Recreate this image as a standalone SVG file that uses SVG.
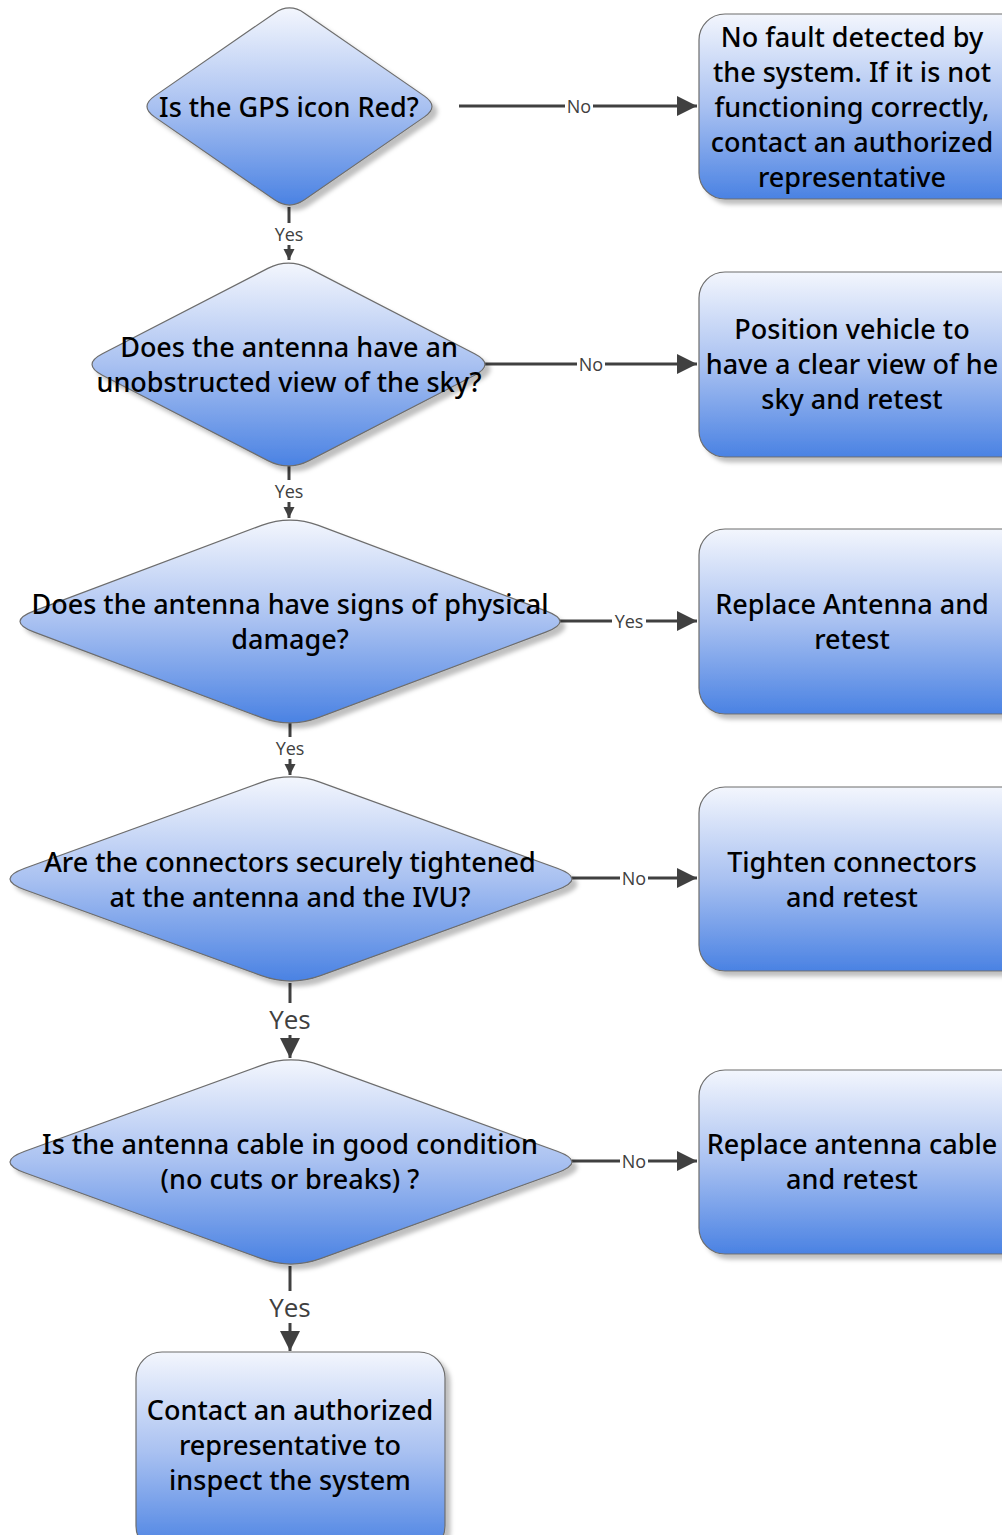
<svg xmlns="http://www.w3.org/2000/svg" width="1002" height="1535" viewBox="0 0 1002 1535">
<defs>
<linearGradient id="g" x1="0" y1="0" x2="0" y2="1">
<stop offset="0" stop-color="#f3f6fd"/>
<stop offset="0.5" stop-color="#a9c1f1"/>
<stop offset="1" stop-color="#4a82e3"/>
</linearGradient>
<filter id="sh" x="-10%" y="-10%" width="125%" height="125%">
<feDropShadow dx="5" dy="5" stdDeviation="2" flood-color="#000" flood-opacity="0.25"/>
</filter>
<marker id="ah" viewBox="0 0 10 10" refX="10" refY="5" markerWidth="22" markerHeight="20" markerUnits="userSpaceOnUse" orient="auto"><path d="M0,0 L10,5 L0,10 z" fill="#404040"/></marker>
<marker id="as" viewBox="0 0 10 10" refX="10" refY="5" markerWidth="11" markerHeight="12" markerUnits="userSpaceOnUse" orient="auto"><path d="M0,0 L10,5 L0,10 z" fill="#404040"/></marker>
</defs>
<style>
.n{fill:url(#g);stroke:#6d6d6d;stroke-width:1.2;filter:url(#sh)}
.t{font-family:"Noto Sans",sans-serif;font-size:27px;font-weight:500;fill:#000;text-anchor:middle;dominant-baseline:central}
.c{stroke:#404040;stroke-width:3;fill:none}
.l{font-family:"Open Sans",sans-serif;font-size:18px;fill:#404040;text-anchor:middle;dominant-baseline:central}
.lb{font-family:"Open Sans",sans-serif;font-size:26px;fill:#404040;text-anchor:middle;dominant-baseline:central}
.bg{fill:#fff}
</style>
<g id="connectors">
<path class="c" d="M459,106 H697" marker-end="url(#ah)"/>
<rect class="bg" x="565" y="95" width="28" height="22"/><text class="l" x="579" y="106">No</text>
<path class="c" d="M485,364 H697" marker-end="url(#ah)"/>
<rect class="bg" x="577" y="353" width="28" height="22"/><text class="l" x="591" y="364">No</text>
<path class="c" d="M560,621 H697" marker-end="url(#ah)"/>
<rect class="bg" x="612" y="610" width="34" height="22"/><text class="l" x="629" y="621">Yes</text>
<path class="c" d="M572,878 H697" marker-end="url(#ah)"/>
<rect class="bg" x="620" y="867" width="28" height="22"/><text class="l" x="634" y="878">No</text>
<path class="c" d="M572,1161 H697" marker-end="url(#ah)"/>
<rect class="bg" x="620" y="1150" width="28" height="22"/><text class="l" x="634" y="1161">No</text>
<path class="c" d="M289,207 V260" marker-end="url(#as)"/>
<rect class="bg" x="270" y="223" width="38" height="22"/><text class="l" x="289" y="234">Yes</text>
<path class="c" d="M289,466 V518" marker-end="url(#as)"/>
<rect class="bg" x="270" y="480" width="38" height="22"/><text class="l" x="289" y="491">Yes</text>
<path class="c" d="M290,723 V775" marker-end="url(#as)"/>
<rect class="bg" x="271" y="737" width="38" height="22"/><text class="l" x="290" y="748">Yes</text>
<path class="c" d="M290,983 V1058" marker-end="url(#ah)"/>
<rect class="bg" x="264" y="1003" width="52" height="32"/><text class="lb" x="290" y="1019">Yes</text>
<path class="c" d="M290,1266 V1351" marker-end="url(#ah)"/>
<rect class="bg" x="264" y="1291" width="52" height="32"/><text class="lb" x="290" y="1307">Yes</text>
</g>
<g id="d1">
<path class="n" d="M304.5,13.17 L424.5,96.13 Q439.5,106.5 424.5,116.87 L304.5,199.83 Q289.5,210.2 274.5,199.83 L154.5,116.87 Q139.5,106.5 154.5,96.13 L274.5,13.17 Q289.5,2.8 304.5,13.17 Z"/>
<text class="t" x="289" y="106">Is the GPS icon Red?</text>
</g>
<g id="d2">
<path class="n" d="M309.18,268.38 L474.62,353.82 Q495.3,364.5 474.62,375.18 L309.18,460.62 Q288.5,471.3 267.82,460.62 L102.38,375.18 Q81.7,364.5 102.38,353.82 L267.82,268.38 Q288.5,257.7 309.18,268.38 Z"/>
<text class="t" x="289" y="346">Does the antenna have an</text>
<text class="t" x="289" y="381">unobstructed view of the sky?</text>
</g>
<g id="d3">
<path class="n" d="M318.42,525.38 L545.78,610.82 Q574.2,621.5 545.78,632.18 L318.42,717.62 Q290,728.3 261.58,717.62 L34.22,632.18 Q5.8,621.5 34.22,610.82 L261.58,525.38 Q290,514.7 318.42,525.38 Z"/>
<text class="t" x="290" y="603">Does the antenna have signs of physical</text>
<text class="t" x="290" y="638">damage?</text>
</g>
<g id="d4">
<path class="n" d="M320.58,782.34 L557.22,868.26 Q586.8,879 557.22,889.74 L320.58,975.66 Q291,986.4 261.42,975.66 L24.78,889.74 Q-4.8,879 24.78,868.26 L261.42,782.34 Q291,771.6 320.58,782.34 Z"/>
<text class="t" x="290" y="861">Are the connectors securely tightened</text>
<text class="t" x="290" y="896">at the antenna and the IVU?</text>
</g>
<g id="d5">
<path class="n" d="M320.58,1065.34 L557.22,1151.26 Q586.8,1162 557.22,1172.74 L320.58,1258.66 Q291,1269.4 261.42,1258.66 L24.78,1172.74 Q-4.8,1162 24.78,1151.26 L261.42,1065.34 Q291,1054.6 320.58,1065.34 Z"/>
<text class="t" x="290" y="1143">Is the antenna cable in good condition</text>
<text class="t" x="290" y="1178">(no cuts or breaks) ?</text>
</g>
<g id="b1">
<rect class="n" x="699" y="14" width="330" height="185" rx="26"/>
<text class="t" x="852" y="36">No fault detected by</text>
<text class="t" x="852" y="71">the system. If it is not</text>
<text class="t" x="852" y="106">functioning correctly,</text>
<text class="t" x="852" y="141">contact an authorized</text>
<text class="t" x="852" y="176">representative</text>
</g>
<g id="b2">
<rect class="n" x="699" y="272" width="330" height="185" rx="26"/>
<text class="t" x="852" y="328">Position vehicle to</text>
<text class="t" x="852" y="363">have a clear view of he</text>
<text class="t" x="852" y="398">sky and retest</text>
</g>
<g id="b3">
<rect class="n" x="699" y="529" width="330" height="185" rx="26"/>
<text class="t" x="852" y="603">Replace Antenna and</text>
<text class="t" x="852" y="638">retest</text>
</g>
<g id="b4">
<rect class="n" x="699" y="787" width="330" height="184" rx="26"/>
<text class="t" x="852" y="861">Tighten connectors</text>
<text class="t" x="852" y="896">and retest</text>
</g>
<g id="b5">
<rect class="n" x="699" y="1070" width="330" height="184" rx="26"/>
<text class="t" x="852" y="1143">Replace antenna cable</text>
<text class="t" x="852" y="1178">and retest</text>
</g>
<g id="b6">
<rect class="n" x="136" y="1352" width="309" height="200" rx="26"/>
<text class="t" x="290" y="1409">Contact an authorized</text>
<text class="t" x="290" y="1444">representative to</text>
<text class="t" x="290" y="1479">inspect the system</text>
</g>
</svg>
